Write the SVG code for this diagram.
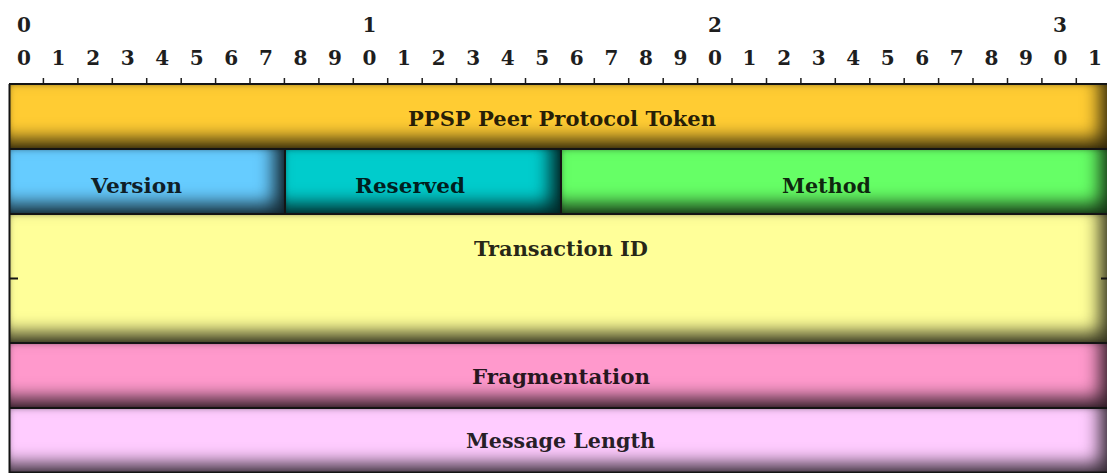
<svg xmlns="http://www.w3.org/2000/svg" width="1107" height="473" viewBox="0 0 1107 473">
  <defs>
    <!-- soft inner shadow: a broad one toward the bottom-right plus a thin rim on every edge -->
    <filter id="inset" filterUnits="userSpaceOnUse" x="-50" y="-50" width="1250" height="600" color-interpolation-filters="sRGB">
      <feComponentTransfer in="SourceAlpha" result="inv">
        <feFuncA type="table" tableValues="1 0"/>
      </feComponentTransfer>
      <feOffset in="inv" dx="-11" dy="-10" result="off"/>
      <feGaussianBlur in="off" stdDeviation="9" result="blur"/>
      <feFlood flood-color="#000" flood-opacity="0.8"/>
      <feComposite in2="blur" operator="in" result="shade"/>
      <feComposite in="shade" in2="SourceAlpha" operator="in" result="inner"/>
      <feGaussianBlur in="inv" stdDeviation="2.5" result="rimBlur"/>
      <feFlood flood-color="#000" flood-opacity="0.4"/>
      <feComposite in2="rimBlur" operator="in" result="rimShade"/>
      <feComposite in="rimShade" in2="SourceAlpha" operator="in" result="rim"/>
      <feMerge>
        <feMergeNode in="SourceGraphic"/>
        <feMergeNode in="inner"/>
        <feMergeNode in="rim"/>
      </feMerge>
    </filter>
  </defs>
  <style>
    .digit { font-family: "DejaVu Serif", "Liberation Serif", serif; font-weight: bold; font-size: 20px; fill: #1e1e1e; text-anchor: middle; }
    .label { font-family: "DejaVu Serif", "Liberation Serif", serif; font-weight: bold; font-size: 20px; fill: #000; fill-opacity: 0.86; text-anchor: middle; }
    .box { filter: url(#inset); }
    .rule { stroke: #141414; stroke-width: 2; fill: none; }
    .tick { stroke: #1e1e1e; stroke-width: 1.5; }
  </style>

  <rect width="1107" height="473" fill="#ffffff"/>

  <!-- bit ruler -->
  <g id="ruler">
    <text class="digit" x="24" y="32">0</text>
    <text class="digit" x="369.5" y="32">1</text>
    <text class="digit" x="715" y="32">2</text>
    <text class="digit" x="1060" y="32">3</text>

    <text class="digit" x="24" y="65">0</text>
    <text class="digit" x="58.5" y="65">1</text>
    <text class="digit" x="93.1" y="65">2</text>
    <text class="digit" x="127.7" y="65">3</text>
    <text class="digit" x="162.2" y="65">4</text>
    <text class="digit" x="196.8" y="65">5</text>
    <text class="digit" x="231.3" y="65">6</text>
    <text class="digit" x="265.9" y="65">7</text>
    <text class="digit" x="300.4" y="65">8</text>
    <text class="digit" x="335" y="65">9</text>
    <text class="digit" x="369.5" y="65">0</text>
    <text class="digit" x="404" y="65">1</text>
    <text class="digit" x="438.6" y="65">2</text>
    <text class="digit" x="473.2" y="65">3</text>
    <text class="digit" x="507.7" y="65">4</text>
    <text class="digit" x="542.2" y="65">5</text>
    <text class="digit" x="576.8" y="65">6</text>
    <text class="digit" x="611.4" y="65">7</text>
    <text class="digit" x="645.9" y="65">8</text>
    <text class="digit" x="680.4" y="65">9</text>
    <text class="digit" x="715" y="65">0</text>
    <text class="digit" x="749.5" y="65">1</text>
    <text class="digit" x="784.1" y="65">2</text>
    <text class="digit" x="818.6" y="65">3</text>
    <text class="digit" x="853.2" y="65">4</text>
    <text class="digit" x="887.8" y="65">5</text>
    <text class="digit" x="922.3" y="65">6</text>
    <text class="digit" x="956.8" y="65">7</text>
    <text class="digit" x="991.4" y="65">8</text>
    <text class="digit" x="1026" y="65">9</text>
    <text class="digit" x="1060.5" y="65">0</text>
    <text class="digit" x="1095" y="65">1</text>

    <path class="tick" d="M43.4 78V84M77.9 78V84M112.3 78V84M146.7 78V84M181.2 78V84M215.6 78V84M250 78V84M284.4 78V84M318.9 78V84M353.3 78V84M387.7 78V84M422.2 78V84M456.6 78V84M491 78V84M525.5 78V84M559.9 78V84M594.3 78V84M628.7 78V84M663.2 78V84M697.6 78V84M732 78V84M766.5 78V84M800.9 78V84M835.3 78V84M869.8 78V84M904.2 78V84M938.6 78V84M973 78V84M1007.5 78V84M1041.9 78V84M1076.3 78V84"/>
  </g>

  <!-- header fields -->
  <g id="token">
    <rect class="box" x="9" y="84" width="1102" height="65" fill="#ffcc33"/>
    <text class="label" x="562" y="125.5" textLength="308" lengthAdjust="spacingAndGlyphs">PPSP Peer Protocol Token</text>
  </g>
  <g id="version">
    <rect class="box" x="9" y="149" width="276" height="65" fill="#66ccff"/>
    <text class="label" x="136.5" y="192.5" textLength="91" lengthAdjust="spacingAndGlyphs">Version</text>
  </g>
  <g id="reserved">
    <rect class="box" x="285" y="149" width="276" height="65" fill="#00cccc"/>
    <text class="label" x="410" y="192.5" textLength="110" lengthAdjust="spacingAndGlyphs">Reserved</text>
  </g>
  <g id="method">
    <rect class="box" x="561" y="149" width="550" height="65" fill="#66ff66"/>
    <text class="label" x="826.5" y="192.5" textLength="89" lengthAdjust="spacingAndGlyphs">Method</text>
  </g>
  <g id="transaction-id">
    <rect class="box" x="9" y="214" width="1102" height="129" fill="#ffff99"/>
    <text class="label" x="561" y="255.5" textLength="174" lengthAdjust="spacingAndGlyphs">Transaction ID</text>
  </g>
  <g id="fragmentation">
    <rect class="box" x="9" y="343" width="1102" height="65" fill="#ff99cc"/>
    <text class="label" x="561" y="383.5" textLength="178" lengthAdjust="spacingAndGlyphs">Fragmentation</text>
  </g>
  <g id="message-length">
    <rect class="box" x="9" y="408" width="1102" height="66" fill="#ffccff"/>
    <text class="label" x="560.5" y="447.5" textLength="189" lengthAdjust="spacingAndGlyphs">Message Length</text>
  </g>

  <!-- field borders -->
  <g id="borders">
    <path class="rule" d="M9 84H1111M9 149H1111M9 214H1111M9 343H1111M9 408H1111M9 472.5H1111"/>
    <path class="rule" d="M285 149V214M561 149V214"/>
    <path class="rule" stroke-width="2.5" d="M9.5 84V473"/>
    <path class="rule" d="M9 278.5H18M1101 278.5H1111"/>
  </g>
</svg>
